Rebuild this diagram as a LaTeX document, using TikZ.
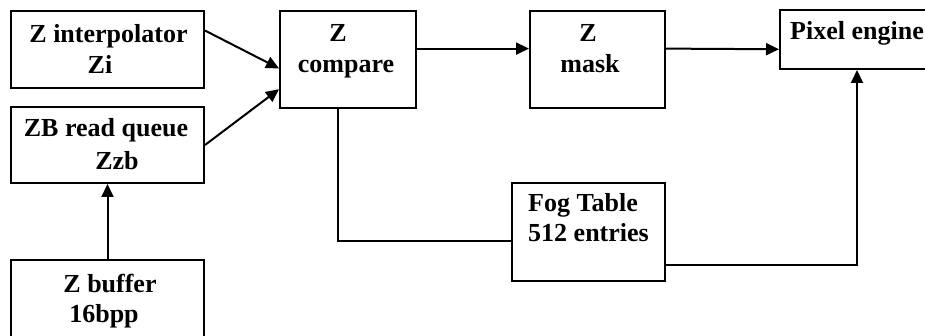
\documentclass[tikz,border=0pt]{standalone}
\usepackage{fontspec}
\setmainfont{Liberation Serif}
\usetikzlibrary{calc,arrows.meta}
\begin{document}
\begin{tikzpicture}[x=1pt,y=-1pt,
  box/.style={draw,line width=2pt,inner sep=0pt,anchor=north west},
  lbl/.style={font=\fontsize{26}{31}\selectfont\bfseries,inner sep=0pt,anchor=base},
  lbll/.style={lbl,anchor=base west},
  conn/.style={line width=2pt},
  arr/.style={conn,-{Triangle[length=13pt,width=12pt]}}]
\useasboundingbox (0,0) rectangle (925,336);
\clip (0,0) rectangle (925,336);
% boxes
\node[box,minimum width=193pt,minimum height=77pt] (zi) at (10,10) {};
\node[box,minimum width=193pt,minimum height=76pt] (zb) at (10,106) {};
\node[box,minimum width=193pt,minimum height=100pt] (zbuf) at (10,259) {};
\node[box,minimum width=136pt,minimum height=97pt] (cmp) at (279,10) {};
\node[box,minimum width=135pt,minimum height=97pt] (mask) at (529,10) {};
\node[box,minimum width=170pt,minimum height=59pt] (pix) at (779,9) {};
\node[box,minimum width=153pt,minimum height=98pt] (fog) at (511,182) {};
% labels
\node[lbl] (t1) at (108.5,43) {Z interpolator};
\node[lbl] (t2) at (100,74) {Zi};
\node[lbl] (t3) at (106,137) {ZB read queue};
\node[lbl] (t4) at (117,170) {Zzb};
\node[lbl] (t5) at (110,292) {Z buffer};
\node[lbl] (t6) at (104,322) {16bpp};
\node[lbl] (t7) at (338,42) {Z};
\node[lbl] (t8) at (346,73) {compare};
\node[lbl] (t9) at (588,42) {Z};
\node[lbl] (t10) at (590,73) {mask};
\node[lbll] (t11) at (790,40) {Pixel engine};
\node[lbll] (t12) at (528,212) {Fog Table};
\node[lbll] (t13) at (528,242) {512 entries};
% connectors
\draw[arr] ($(zi.north east)!0.26!(zi.south east)$) -- ($(cmp.north west)!0.59!(cmp.south west)$);
\draw[arr] (zb.east) -- ($(cmp.north west)!0.80!(cmp.south west)$);
\draw[arr] (zbuf.north) -- (zb.south);
\draw[arr] ($(cmp.north east)!0.39!(cmp.south east)$) -- ($(mask.north west)!0.39!(mask.south west)$);
\draw[arr] ($(mask.north east)!0.39!(mask.south east)$) -- ($(pix.north west)!0.66!(pix.south west)$);
\draw[conn] ($(cmp.south west)!0.43!(cmp.south east)$) |- ($(fog.north west)!0.59!(fog.south west)$);
\coordinate (pin) at ($(pix.south west)+(78,0)$);
\draw[arr] ($(fog.north east)!0.83!(fog.south east)$) -| (pin);
\end{tikzpicture}
\end{document}
